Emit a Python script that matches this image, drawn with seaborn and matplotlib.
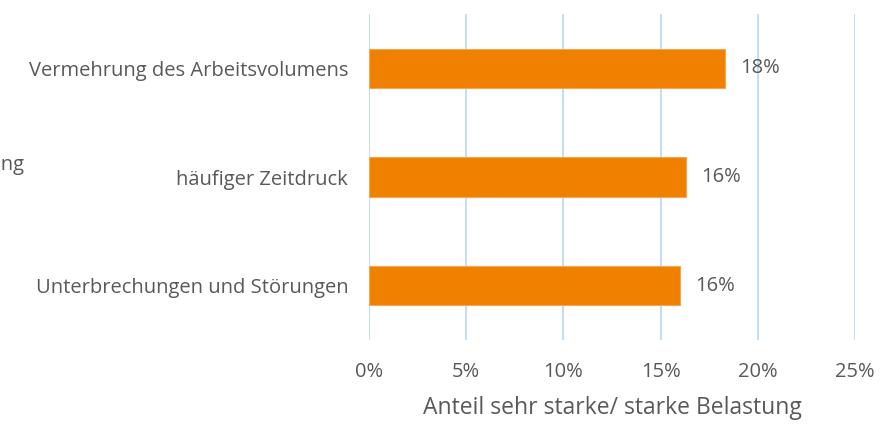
import matplotlib
matplotlib.use("Agg")
import matplotlib.pyplot as plt
import seaborn as sns
import pandas as pd

categories = ["Vermehrung des Arbeitsvolumens", "häufiger Zeitdruck", "Unterbrechungen und Störungen"]
values = [18.3, 16.3, 16.0]
labels = ["18%", "16%", "16%"]
xticks = [0, 5, 10, 15, 20, 25]
xticklabels = ["0%", "5%", "10%", "15%", "20%", "25%"]

sns.set_theme(style="white")
plt.rcParams['font.family'] = ['Open Sans', 'DejaVu Sans']

df = pd.DataFrame({"cat": categories, "val": values})
fig = plt.figure(figsize=(8.92, 4.26), dpi=100)
ax = fig.add_axes([369/892, 1-340/426, (855-369)/892, (340-14)/426])

sns.barplot(data=df, x="val", y="cat", color="#F08000", width=0.36, ax=ax,
            saturation=1, edgecolor="#F5A650", linewidth=0.8, zorder=3)
ax.set_xlim(0, 25)
ax.set_ylim(2.5, -0.5)
ax.set_xticks(xticks)
ax.set_xticklabels(xticklabels, fontsize=14.5, color="#595959")
ax.tick_params(axis='x', length=0, pad=16)
ax.tick_params(axis='y', length=0, pad=15, labelsize=14.5, labelcolor="#595959")
ax.xaxis.grid(True, color="#C5DDF5", linewidth=1.5, zorder=0)
ax.yaxis.grid(False)
for s in ax.spines.values():
    s.set_visible(False)
ax.set_ylabel("")
ax.set_xlabel("Anteil sehr starke/ starke Belastung", fontsize=16.5, color="#595959", labelpad=10)

for i, (v, l) in enumerate(zip(values, labels)):
    ax.text(v + 0.8, i, l, va="center", ha="left", fontsize=14.5, color="#595959")

fig.text(24/892, 1-165/426, "Belastung", ha="right", va="center", fontsize=14.5, color="#595959")

fig.savefig("out.png", dpi=100)
